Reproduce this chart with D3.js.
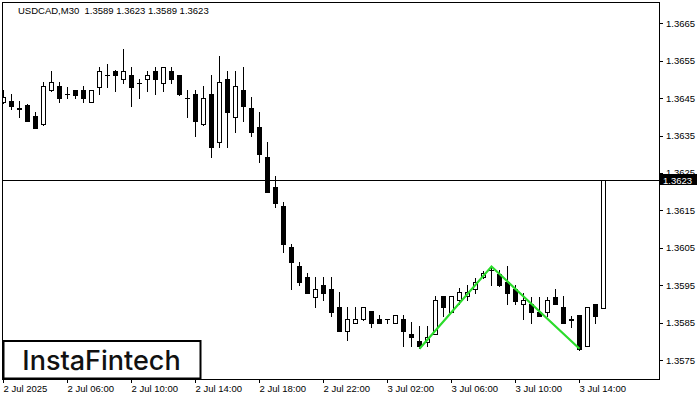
<!DOCTYPE html>
<html>
<head>
<meta charset="utf-8">
<script src="https://cdn.jsdelivr.net/npm/d3@7"></script>
<style>
  html, body { margin: 0; padding: 0; background: #fff; }
  svg { display: block; }
  text { font-family: "Liberation Sans", Arial, sans-serif; }
</style>
</head>
<body>
<svg id="chart" width="700" height="400"></svg>
<script>
// ---- Data (USDCAD M30, 2 Jul 02:00 -> 3 Jul 15:30) ----
const open = [1.36440,1.36442,1.36424,1.36432,1.36402,1.36380,1.36471,1.36482,1.36460,1.36471,
  1.36471,1.36440,1.36481,1.36512,1.36523,1.36501,1.36512,1.36491,1.36501,1.36523,
  1.36491,1.36523,1.36512,1.36451,1.36460,1.36380,1.36460,1.36332,1.36501,1.36400,
  1.36472,1.36423,1.36372,1.36292,1.36212,1.36162,1.36051,1.36001,1.35973,1.35919,
  1.35950,1.35940,1.35892,1.35828,1.35850,1.35859,1.35881,1.35860,1.35859,1.35850,
  1.35859,1.35820,1.35801,1.35799,1.35820,1.35921,1.35879,1.35910,1.35921,1.35939,
  1.35971,1.35991,1.35980,1.35959,1.35939,1.35900,1.35900,1.35879,1.35879,1.35919,
  1.35891,1.35859,1.35870,1.35788,1.35900,1.35890];
const high = [1.36472,1.36461,1.36442,1.36433,1.36414,1.36494,1.36523,1.36492,1.36481,1.36472,
  1.36482,1.36472,1.36532,1.36541,1.36524,1.36581,1.36532,1.36501,1.36523,1.36532,
  1.36533,1.36532,1.36513,1.36472,1.36472,1.36482,1.36512,1.36563,1.36523,1.36523,
  1.36532,1.36452,1.36414,1.36334,1.36242,1.36171,1.36059,1.36011,1.35982,1.35973,
  1.35973,1.35973,1.35931,1.35892,1.35892,1.35893,1.35882,1.35870,1.35860,1.35871,
  1.35870,1.35852,1.35841,1.35841,1.35921,1.35922,1.35922,1.35942,1.35950,1.35968,
  1.35989,1.36001,1.35991,1.36001,1.35950,1.35930,1.35919,1.35919,1.35919,1.35939,
  1.35921,1.35868,1.35871,1.35892,1.35901,1.36230];
const low = [1.36436,1.36421,1.36400,1.36388,1.36370,1.36378,1.36470,1.36440,1.36451,1.36451,
  1.36440,1.36439,1.36460,1.36481,1.36470,1.36491,1.36430,1.36451,1.36470,1.36460,
  1.36470,1.36491,1.36459,1.36400,1.36350,1.36378,1.36292,1.36320,1.36320,1.36360,
  1.36390,1.36350,1.36280,1.36199,1.36160,1.36040,1.35939,1.35950,1.35929,1.35891,
  1.35910,1.35868,1.35827,1.35803,1.35849,1.35858,1.35839,1.35849,1.35850,1.35849,
  1.35788,1.35788,1.35781,1.35788,1.35819,1.35868,1.35878,1.35900,1.35910,1.35930,
  1.35970,1.35950,1.35949,1.35900,1.35900,1.35859,1.35850,1.35867,1.35868,1.35899,
  1.35849,1.35837,1.35778,1.35787,1.35850,1.35890];
const close = [1.36452,1.36430,1.36422,1.36390,1.36371,1.36482,1.36492,1.36451,1.36461,1.36458,
  1.36451,1.36471,1.36523,1.36511,1.36511,1.36523,1.36481,1.36490,1.36512,1.36501,
  1.36532,1.36501,1.36460,1.36450,1.36390,1.36451,1.36320,1.36492,1.36412,1.36482,
  1.36430,1.36360,1.36300,1.36200,1.36170,1.36059,1.36011,1.35959,1.35930,1.35940,
  1.35930,1.35879,1.35828,1.35859,1.35859,1.35892,1.35850,1.35850,1.35859,1.35870,
  1.35828,1.35811,1.35788,1.35811,1.35910,1.35891,1.35921,1.35931,1.35931,1.35959,
  1.35982,1.35990,1.35950,1.35930,1.35909,1.35910,1.35879,1.35868,1.35910,1.35900,
  1.35850,1.35858,1.35779,1.35891,1.35868,1.36230];

const timeTickBars   = [0, 8, 16, 24, 32, 40, 48, 56, 64, 72];
const timeTickLabels = ["2 Jul 2025","2 Jul 06:00","2 Jul 10:00","2 Jul 14:00","2 Jul 18:00",
                        "2 Jul 22:00","3 Jul 02:00","3 Jul 06:00","3 Jul 10:00","3 Jul 14:00"];
const priceTicks = [1.3575,1.3585,1.3595,1.3605,1.3615,1.3625,1.3635,1.3645,1.3655,1.3665];

const patternBars   = [52, 61, 72];
const patternPrices = [1.3578, 1.3600, 1.3578];

const symbolTitle = "USDCAD,M30";
const ohlcTitle = ["1.3589", "1.3623", "1.3589", "1.3623"];
const currentPrice = 1.3623;
const brand = "InstaFintech";

// ---- Layout ----
const W = 700, H = 400;
const plot = { left: 3, top: 3, right: 659, bottom: 379 };

const svg = d3.select("#chart");

const x = d3.scaleLinear().domain([0, 75]).range([3.5, 603.5]);
const y = d3.scaleLinear().domain([1.3575, 1.3665]).range([360, 23.3]);
const py = v => Math.round(y(v)) + 0.5;

// clip
svg.append("defs").append("clipPath").attr("id", "plotclip")
  .append("rect").attr("x", plot.left).attr("y", plot.top)
  .attr("width", plot.right - plot.left).attr("height", plot.bottom - plot.top);

// Y axis (right)
const yAxis = d3.axisRight(y).tickValues(priceTicks).tickFormat(d3.format(".4f"))
  .tickSize(4).tickPadding(3).tickSizeOuter(0);
const gy = svg.append("g").attr("transform", `translate(${plot.right},0)`).call(yAxis);
gy.select(".domain").remove();
gy.selectAll(".tick line").attr("stroke", "#000").attr("shape-rendering", "crispEdges");
gy.selectAll(".tick text").attr("fill", "#000").style("font-size", "9.5px")
  .style("font-family", "'Liberation Sans', Arial, sans-serif");

// X axis (bottom)
const xAxis = d3.axisBottom(x).tickValues(timeTickBars)
  .tickFormat((d, i) => timeTickLabels[i]).tickSize(4).tickPadding(2).tickSizeOuter(0);
const gx = svg.append("g").attr("transform", `translate(-0.5,${plot.bottom})`).call(xAxis);
gx.select(".domain").remove();
gx.selectAll(".tick line").attr("stroke", "#000").attr("shape-rendering", "crispEdges");
gx.selectAll(".tick text").attr("fill", "#000").attr("text-anchor", "start").attr("dx", "0")
  .attr("x", 0).style("font-size", "9.5px")
  .style("font-family", "'Liberation Sans', Arial, sans-serif");

// Candles
const data = open.map((o, i) => ({ i, o, h: high[i], l: low[i], c: close[i] }));
const gc = svg.append("g").attr("clip-path", "url(#plotclip)");

// current price horizontal line
gc.append("line")
  .attr("x1", plot.left).attr("x2", plot.right)
  .attr("y1", py(currentPrice)).attr("y2", py(currentPrice))
  .attr("stroke", "#000").attr("stroke-width", 1).attr("shape-rendering", "crispEdges");

gc.selectAll("line.wick").data(data).join("line").attr("class", "wick")
  .attr("x1", d => x(d.i)).attr("x2", d => x(d.i))
  .attr("y1", d => py(d.h) - 0.5).attr("y2", d => py(d.l) + 0.5)
  .attr("stroke", "#000").attr("stroke-width", 1).attr("shape-rendering", "crispEdges");

gc.selectAll("rect.body").data(data).join("rect").attr("class", "body")
  .each(function (d) {
    const el = d3.select(this);
    const top = Math.round(y(Math.max(d.o, d.c)));
    const bot = Math.round(y(Math.min(d.o, d.c)));
    const cx = x(d.i);
    if (bot - top < 1) {
      el.attr("x", cx - 2.5).attr("y", top).attr("width", 5).attr("height", 1)
        .attr("fill", "#000").attr("stroke", "none");
    } else if (d.c >= d.o) {
      el.attr("x", cx - 2).attr("y", top + 0.5).attr("width", 4).attr("height", Math.max(bot - top, 1))
        .attr("fill", "#fff").attr("stroke", "#000").attr("stroke-width", 1);
    } else {
      el.attr("x", cx - 2.5).attr("y", top).attr("width", 5).attr("height", Math.max(bot - top + 1, 1))
        .attr("fill", "#000").attr("stroke", "none");
    }
  })
  .attr("shape-rendering", "crispEdges");

// Pattern line (double top)
const line = d3.line().x(d => x(d[0])).y(d => y(d[1]));
gc.append("path")
  .datum(patternBars.map((b, k) => [b, patternPrices[k]]))
  .attr("d", line).attr("fill", "none")
  .attr("stroke", "#2bdc2b").attr("stroke-width", 2.2).attr("stroke-linejoin", "miter");

// Frame
svg.append("rect")
  .attr("x", plot.left - 0.5).attr("y", plot.top - 0.5)
  .attr("width", plot.right - plot.left + 1).attr("height", plot.bottom - plot.top + 0.5)
  .attr("fill", "none").attr("stroke", "#000").attr("stroke-width", 1)
  .attr("shape-rendering", "crispEdges");

// Current price tag
const tagY = py(currentPrice);
svg.append("rect").attr("x", plot.right + 1).attr("y", tagY - 6.5)
  .attr("width", 37).attr("height", 11).attr("fill", "#000");
svg.append("text").attr("x", plot.right + 4).attr("y", tagY + 3)
  .attr("fill", "#fff").style("font-size", "9.5px").text(currentPrice.toFixed(4));

// Title
svg.append("text").attr("x", 18).attr("y", 14).attr("fill", "#000")
  .style("font-size", "9.5px")
  .text(symbolTitle + "\u00a0\u00a0" + ohlcTitle.join(" "));

// Brand box
svg.append("rect").attr("x", 3.5).attr("y", 341).attr("width", 197).attr("height", 37.5)
  .attr("fill", "#fff").attr("stroke", "#000").attr("stroke-width", 2);
svg.append("text").attr("x", 101.5).attr("y", 369.5).attr("text-anchor", "middle")
  .attr("fill", "#111").style("font-family", "Inter, 'Noto Sans', sans-serif")
  .style("font-size", "27px").style("font-weight", "500").text(brand);
</script>
</body>
</html>
